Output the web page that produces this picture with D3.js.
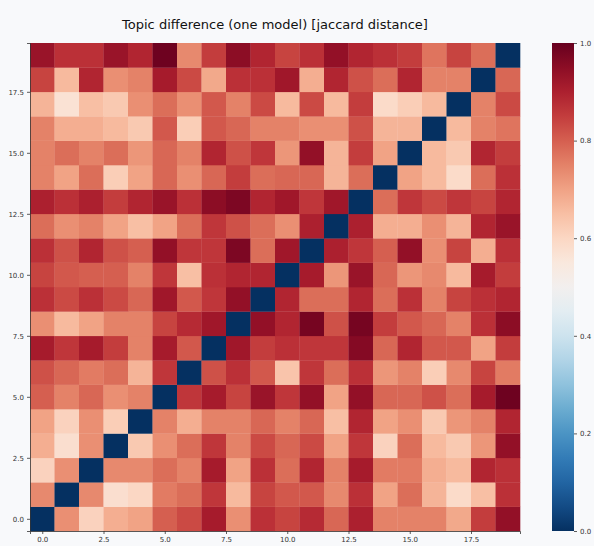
<!DOCTYPE html>
<html>
<head>
<meta charset="utf-8">
<title>Topic difference heatmap</title>
<script src="https://d3js.org/d3.v7.min.js"></script>
<style>
  html, body { margin: 0; padding: 0; background: #f8f9fb; }
  text { font-family: "DejaVu Sans", sans-serif; }
  .axis text { font-size: 7px; fill: #333; }
  .axis path, .axis line { stroke: #333; stroke-width: 0.8px; }
  text.title { font-size: 13px; fill: #111; }
</style>
</head>
<body>
<script>
// topic index 0..19
var topics = d3.range(20);
var xTicks = [0, 2.5, 5, 7.5, 10, 12.5, 15, 17.5];
var yTicks = [0, 2.5, 5, 7.5, 10, 12.5, 15, 17.5];
var cbarTicks = [0, 0.2, 0.4, 0.6, 0.8, 1.0];

// jaccard distance, row r = topic r (row 0 at the bottom)
var dist = [
  [0.00,0.73,0.61,0.68,0.70,0.80,0.83,0.91,0.73,0.87,0.84,0.88,0.79,0.90,0.75,0.75,0.75,0.69,0.85,0.94],
  [0.74,0.00,0.74,0.58,0.60,0.76,0.78,0.86,0.66,0.84,0.81,0.81,0.74,0.87,0.70,0.78,0.67,0.59,0.65,0.87],
  [0.61,0.73,0.00,0.74,0.74,0.78,0.75,0.91,0.70,0.87,0.78,0.89,0.75,0.91,0.76,0.76,0.68,0.66,0.89,0.87],
  [0.68,0.58,0.73,0.00,0.63,0.73,0.78,0.86,0.75,0.83,0.79,0.83,0.70,0.86,0.61,0.78,0.66,0.63,0.72,0.94],
  [0.70,0.61,0.73,0.62,0.00,0.75,0.68,0.75,0.75,0.79,0.75,0.79,0.65,0.89,0.70,0.73,0.63,0.72,0.75,0.89],
  [0.80,0.75,0.79,0.73,0.75,0.00,0.86,0.91,0.84,0.93,0.86,0.94,0.70,0.94,0.79,0.79,0.82,0.78,0.91,0.99],
  [0.82,0.79,0.76,0.78,0.67,0.86,0.00,0.82,0.87,0.81,0.64,0.86,0.78,0.87,0.72,0.75,0.62,0.74,0.84,0.76],
  [0.91,0.86,0.91,0.85,0.75,0.91,0.81,0.00,0.92,0.85,0.87,0.86,0.86,0.96,0.79,0.89,0.81,0.81,0.70,0.85],
  [0.73,0.66,0.70,0.75,0.75,0.84,0.88,0.92,0.00,0.94,0.89,0.98,0.82,0.98,0.85,0.81,0.79,0.75,0.87,0.95],
  [0.87,0.83,0.87,0.83,0.79,0.92,0.81,0.86,0.94,0.00,0.89,0.78,0.78,0.89,0.78,0.87,0.75,0.84,0.87,0.89],
  [0.84,0.81,0.80,0.80,0.75,0.86,0.65,0.87,0.89,0.89,0.00,0.91,0.72,0.93,0.79,0.72,0.74,0.66,0.91,0.85],
  [0.87,0.82,0.89,0.82,0.80,0.94,0.86,0.86,0.97,0.78,0.92,0.00,0.90,0.86,0.80,0.94,0.73,0.84,0.68,0.87],
  [0.78,0.73,0.75,0.70,0.65,0.70,0.78,0.86,0.82,0.78,0.73,0.90,0.00,0.90,0.68,0.68,0.73,0.67,0.89,0.93],
  [0.90,0.87,0.90,0.85,0.89,0.93,0.87,0.95,0.97,0.89,0.92,0.86,0.92,0.00,0.78,0.86,0.83,0.86,0.84,0.89],
  [0.75,0.70,0.78,0.62,0.70,0.79,0.73,0.79,0.85,0.78,0.79,0.79,0.67,0.78,0.00,0.70,0.66,0.59,0.78,0.87],
  [0.75,0.78,0.75,0.78,0.72,0.79,0.75,0.89,0.82,0.86,0.72,0.94,0.67,0.85,0.70,0.00,0.66,0.63,0.89,0.85],
  [0.75,0.68,0.68,0.66,0.63,0.81,0.62,0.81,0.79,0.75,0.75,0.73,0.73,0.82,0.67,0.67,0.00,0.66,0.75,0.77],
  [0.67,0.57,0.65,0.63,0.73,0.78,0.73,0.81,0.75,0.83,0.66,0.83,0.66,0.85,0.59,0.62,0.66,0.00,0.75,0.83],
  [0.84,0.66,0.89,0.73,0.75,0.91,0.83,0.69,0.87,0.87,0.92,0.68,0.89,0.82,0.78,0.89,0.75,0.75,0.00,0.79],
  [0.93,0.87,0.87,0.93,0.89,0.99,0.74,0.85,0.95,0.89,0.84,0.87,0.94,0.89,0.87,0.85,0.77,0.84,0.78,0.00]
];

var W = 594, H = 546;
var plot = {left: 30, right: 520, top: 43, bottom: 531};
var cbar = {left: 552, right: 574};

var color = function (v) { return d3.interpolateRdBu(1 - v); };

var x = d3.scaleLinear().domain([-0.5, 19.5]).range([plot.left, plot.right]);
var y = d3.scaleLinear().domain([-0.5, 19.5]).range([plot.bottom, plot.top]);

var svg = d3.select("body").append("svg").attr("width", W).attr("height", H);

svg.append("text").attr("class", "title")
    .attr("x", (plot.left + plot.right) / 2).attr("y", 29)
    .attr("text-anchor", "middle")
    .text("Topic difference (one model) [jaccard distance]");

// cells
var cells = [];
dist.forEach(function (row, r) {
    row.forEach(function (v, c) { cells.push({r: r, c: c, v: v}); });
});
svg.append("g").selectAll("rect")
    .data(cells).enter()
    .append("rect")
    .attr("x", function (d) { return x(d.c - 0.5); })
    .attr("y", function (d) { return y(d.r + 0.5); })
    .attr("width", x(1) - x(0) + 0.3)
    .attr("height", y(0) - y(1) + 0.3)
    .attr("fill", function (d) { return color(d.v); });

svg.append("g").attr("class", "axis")
    .attr("transform", "translate(0," + plot.bottom + ")")
    .call(d3.axisBottom(x).tickValues(xTicks).tickFormat(d3.format(".1f")).tickSize(3));
svg.append("g").attr("class", "axis")
    .attr("transform", "translate(" + plot.left + ",0)")
    .call(d3.axisLeft(y).tickValues(yTicks).tickFormat(d3.format(".1f")).tickSize(3));

// colorbar
var cy = d3.scaleLinear().domain([0, 1]).range([plot.bottom, plot.top]);
var defs = svg.append("defs");
var grad = defs.append("linearGradient").attr("id", "cb")
    .attr("x1", 0).attr("y1", 1).attr("x2", 0).attr("y2", 0);
d3.range(0, 1.001, 0.05).forEach(function (t) {
    grad.append("stop").attr("offset", t).attr("stop-color", color(t));
});
svg.append("rect")
    .attr("x", cbar.left).attr("y", plot.top)
    .attr("width", cbar.right - cbar.left).attr("height", plot.bottom - plot.top)
    .attr("fill", "url(#cb)");
svg.append("g").attr("class", "axis")
    .attr("transform", "translate(" + cbar.right + ",0)")
    .call(d3.axisRight(cy).tickValues(cbarTicks).tickFormat(d3.format(".1f")).tickSize(3))
    .select(".domain").remove();
</script>
</body>
</html>
